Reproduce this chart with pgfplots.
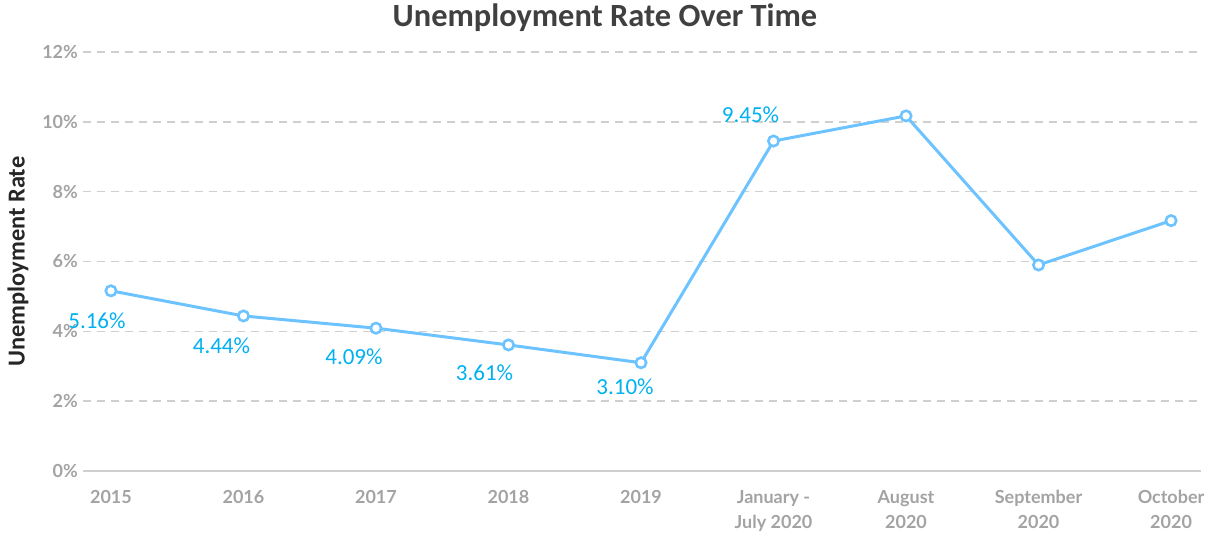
\documentclass[border=0pt]{standalone}
\usepackage{pgfplots}
\pgfplotsset{compat=1.18}
\usepackage{fontspec}
\setmainfont{Carlito}
\newfontfamily\lato{Lato}
\definecolor{linec}{HTML}{6CC3FF}
\definecolor{labc}{HTML}{00B0F0}
\definecolor{tickc}{HTML}{A3A3A3}
\definecolor{gridc}{HTML}{CFCFCF}
\definecolor{titlec}{HTML}{404040}
\begin{document}
\begin{tikzpicture}
\useasboundingbox (-41.5pt,-31pt) rectangle (562.5pt,235.5pt);
\begin{axis}[
  scale only axis,
  width=559pt, height=209.5pt,
  xmin=-0.211, xmax=8.226,
  ymin=0, ymax=12,
  ytick={0,2,4,6,8,10,12},
  xtick={0,...,8},
  xticklabels={2015,2016,2017,2018,2019,{January -\\July 2020},{August\\2020},{September\\2020},{October\\2020}},
  axis lines*=left,
  y axis line style={draw=none},
  x axis line style={draw=gridc, line width=0.8pt, -},
  major tick length=0pt,
  ymajorgrids,
  major grid style={draw=gridc, line width=0.8pt, dash pattern=on 4pt off 3pt},
  /pgf/number format/assume math mode=true,
  yticklabel={\pgfmathprintnumber{\tick}\%},
  yticklabel style={font=\lato\bfseries\fontsize{9}{10}\selectfont, text=tickc, xshift=1pt},
  xticklabel style={font=\lato\bfseries\fontsize{9}{12.5}\selectfont, text=tickc, align=center, yshift=-6pt},
  clip=false,
]
\addplot[color=linec, line width=1.5pt, mark=*, mark size=2.6pt,
  mark options={fill=white, draw=linec, line width=1.3pt}]
  coordinates {(0,5.16) (1,4.44) (2,4.09) (3,3.61) (4,3.10) (5,9.45) (6,10.17) (7,5.90) (8,7.17)};
\addplot[draw=none, mark=none,
  nodes near coords,
  point meta=explicit symbolic,
  visualization depends on={\thisrow{dx} \as \dx},
  visualization depends on={\thisrow{dy} \as \dy},
  every node near coord/.append style={anchor=center, text=labc, font=\fontsize{11.5}{12}\selectfont, xshift=\dx pt, yshift=\dy pt},
] table[meta=lab] {
x y lab dx dy
0 5.16 5.16\% -7 -15
1 4.44 4.44\% -11 -15
2 4.09 4.09\% -11 -14.5
3 3.61 3.61\% -12 -14
4 3.10 3.10\% -8 -12
5 9.45 9.45\% -11.5 13
};
\end{axis}
\node[text=titlec, font=\bfseries\fontsize{16.2}{17}\selectfont] at (261pt,226.5pt) {Unemployment Rate Over Time};
\node[rotate=90, text=black!85, font=\bfseries\fontsize{12.2}{13}\selectfont] at (-32.5pt,104.75pt) {Unemployment Rate};
\end{tikzpicture}
\end{document}
